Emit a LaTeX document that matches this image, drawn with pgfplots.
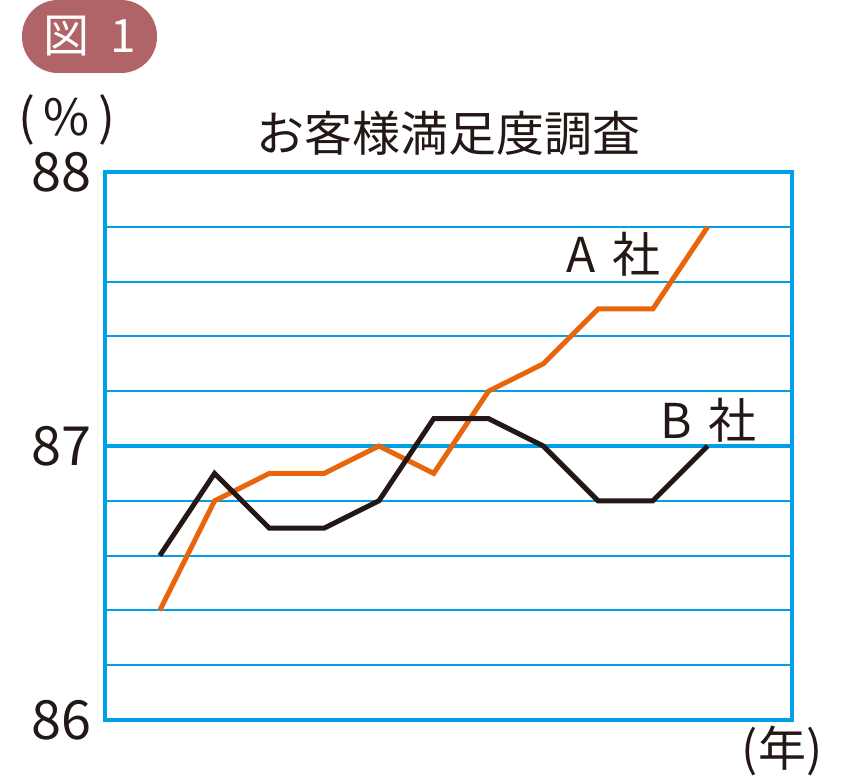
\documentclass[border=0pt]{standalone}
\usepackage{fontspec}
\setmainfont{Noto Sans CJK JP}
\usepackage{pgfplots}
\pgfplotsset{compat=1.18}
\definecolor{gridblue}{HTML}{00A0E9}
\definecolor{lineA}{HTML}{E8650C}
\definecolor{lineB}{HTML}{231815}
\definecolor{badge}{HTML}{B06468}
\begin{document}
\begin{tikzpicture}[x=0.5pt,y=0.5pt]
\useasboundingbox (0,0) rectangle (850,776);
% badge
\fill[badge,rounded corners=18pt] (22,703) rectangle (157,776);
\node[white,font=\fontsize{23}{25}\selectfont] at (89.5,740) {図\hspace{0.45em}1};
% unit labels
\node[lineB,font=\fontsize{25}{28}\selectfont] at (67,656) {(\,\%\,)};
\node[lineB,font=\fontsize{24}{27}\selectfont] at (782,25) {(年)};
\node[lineB,font=\fontsize{24}{27}\selectfont] at (448.5,643) {お客様満足度調査};
\begin{axis}[
    at={(52.5pt,28pt)}, anchor=south west,
    scale only axis, width=343.5pt, height=274pt,
    xmin=0, xmax=12.54,
    ymin=86, ymax=88,
    xtick=\empty,
    ytick={86,88},
    minor ytick={86.2,86.4,86.6,86.8,87.2,87.4,87.6,87.8},
    extra y ticks={87},
    extra y tick style={ymajorgrids=true},
    major grid style={gridblue,line width=2pt},
    yminorgrids=true,
    minor grid style={gridblue,line width=1pt},
    axis line style={gridblue,line width=2pt},
    major tick length=0pt, minor tick length=0pt,
    tick style={draw=none},
    yticklabel style={font=\fontsize{27}{30}\selectfont,text=lineB,xshift=-3pt},
    /pgf/number format/assume math mode=true,
    clip=false,
]
\addplot[lineA,line width=2.5pt] coordinates {
  (1,86.4)(2,86.8)(3,86.9)(4,86.9)(5,87.0)(6,86.9)(7,87.2)(8,87.3)(9,87.5)(10,87.5)(11,87.8)
};
\addplot[lineB,line width=2.5pt] coordinates {
  (1,86.6)(2,86.9)(3,86.7)(4,86.7)(5,86.8)(6,87.1)(7,87.1)(8,87.0)(9,86.8)(10,86.8)(11,87.0)
};
\node[lineB,font=\fontsize{24}{26}\selectfont] at (axis cs:9.28,87.70) {A\hspace{0.35em}社};
\node[lineB,font=\fontsize{24}{26}\selectfont] at (axis cs:11.01,87.095) {B\hspace{0.35em}社};
\end{axis}
\end{tikzpicture}
\end{document}
